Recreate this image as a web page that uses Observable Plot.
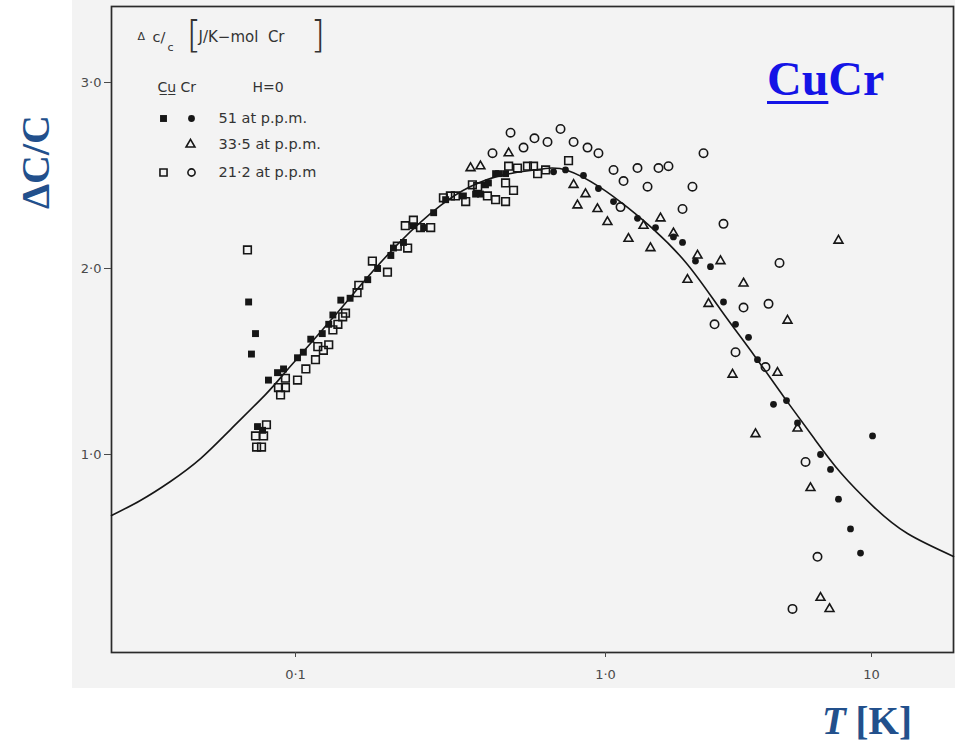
<!DOCTYPE html>
<html>
<head>
<meta charset="utf-8">
<script src="https://cdn.jsdelivr.net/npm/d3@7"></script>
<script src="https://cdn.jsdelivr.net/npm/@observablehq/plot@0.6"></script>
<style>
  html, body { margin: 0; padding: 0; background: #fff; }
  #wrap { position: relative; width: 955px; height: 744px; overflow: hidden; }
  #paper { position: absolute; left: 72px; top: 0; width: 883px; height: 688px; background: #f3f3f3; }
  #chart { position: absolute; left: 0; top: 0; }
  .lbl { position: absolute; font-family: "Liberation Serif", "Times New Roman", serif; font-weight: bold; line-height: 1; white-space: nowrap; }
  #ylab { left: 36px; top: 162px; font-size: 40px; color: #22508c; transform: translate(-50%, -50%) rotate(-90deg); }
  #xlab { left: 822px; top: 701px; font-size: 39px; color: #22508c; }
  #tag { left: 767px; top: 55px; font-size: 48px; color: #1414e6; }
  #tag u { text-decoration-thickness: 3px; text-underline-offset: 6px; }
</style>
</head>
<body>
<div id="wrap">
  <div id="paper"></div>
  <div id="chart"></div>
  <div class="lbl" id="ylab">ΔC/C</div>
  <div class="lbl" id="xlab"><i>T</i> [K]</div>
  <div class="lbl" id="tag"><u>Cu</u>Cr</div>
</div>
<script>
// Specific heat anomaly ΔC/C of dilute CuCr versus temperature (H = 0).
// Each series: [T in K, ΔC/C].

// 51 at p.p.m., low-temperature run (filled squares)
const cr51Low = [
  [0.0706,1.82],[0.0743,1.65],[0.0721,1.54],[0.0754,1.15],[0.0783,1.13],[0.0818,1.40],
  [0.0875,1.44],[0.0915,1.46],[0.1015,1.52],[0.106,1.55],[0.112,1.62],[0.122,1.65],
  [0.128,1.70],[0.132,1.75],[0.140,1.83],[0.150,1.84],[0.171,1.94],[0.184,2.00],
  [0.203,2.07],[0.207,2.11],[0.223,2.14],[0.240,2.23],[0.259,2.22],[0.279,2.30],
  [0.305,2.37],[0.348,2.39],[0.381,2.40],[0.395,2.40],[0.410,2.45],[0.419,2.46],
  [0.442,2.51],[0.452,2.51],[0.476,2.51]
];

// 51 at p.p.m., high-temperature run (filled circles)
const cr51High = [
  [0.680,2.52],[0.743,2.53],[0.849,2.50],[0.949,2.43],[1.072,2.36],[1.319,2.27],
  [1.542,2.22],[1.801,2.17],[1.948,2.14],[2.179,2.04],[2.481,2.01],[2.777,1.82],
  [3.082,1.70],[3.449,1.63],[3.728,1.51],[4.281,1.27],[4.791,1.29],[5.270,1.17],
  [6.432,1.00],[7.014,0.92],[7.514,0.76],[8.338,0.60],[9.093,0.47],[10.09,1.10]
];

// 33·5 at p.p.m. (open triangles)
const cr335 = [
  [0.367,2.54],[0.395,2.55],[0.487,2.62],[0.789,2.45],[0.862,2.40],[0.812,2.34],
  [0.942,2.32],[1.017,2.25],[1.220,2.16],[1.390,2.23],[1.476,2.11],[1.610,2.27],
  [1.801,2.19],[2.033,1.94],[2.218,2.07],[2.439,1.81],[2.706,2.04],[3.003,1.43],
  [3.303,1.92],[3.664,1.11],[4.432,1.44],[4.833,1.72],[5.270,1.14],[5.897,0.82],
  [6.432,0.23],[6.953,0.17],[7.514,2.15]
];

// 21·2 at p.p.m., low-temperature run (open squares)
const cr212Low = [
  [0.0700,2.10],[0.0806,1.16],[0.0743,1.10],[0.0789,1.10],[0.0749,1.04],[0.0777,1.04],
  [0.0881,1.36],[0.0928,1.36],[0.0895,1.32],[0.0928,1.41],[0.1015,1.40],[0.108,1.46],
  [0.116,1.51],[0.118,1.58],[0.123,1.56],[0.128,1.59],[0.132,1.67],[0.137,1.70],
  [0.142,1.74],[0.145,1.76],[0.158,1.87],[0.160,1.91],[0.177,2.04],[0.198,1.98],
  [0.213,2.12],[0.230,2.11],[0.226,2.23],[0.240,2.26],[0.253,2.22],[0.273,2.22],
  [0.300,2.38],[0.316,2.39],[0.328,2.39],[0.354,2.36],[0.372,2.45],[0.387,2.44],
  [0.416,2.39],[0.442,2.37],[0.476,2.36],[0.476,2.46],[0.505,2.42],[0.487,2.55],
  [0.520,2.54],[0.560,2.55],[0.586,2.55],[0.604,2.51],[0.641,2.53],[0.760,2.58]
];

// 21·2 at p.p.m., high-temperature run (open circles)
const cr212High = [
  [0.432,2.62],[0.494,2.73],[0.544,2.65],[0.590,2.70],[0.650,2.68],[0.716,2.75],
  [0.789,2.68],[0.875,2.65],[0.949,2.62],[1.072,2.53],[1.169,2.47],[1.139,2.33],
  [1.319,2.54],[1.439,2.44],[1.582,2.54],[1.725,2.55],[1.948,2.32],[2.123,2.44],
  [2.336,2.62],[2.570,1.70],[2.777,2.24],[3.082,1.55],[3.303,1.79],[3.995,1.47],
  [4.101,1.81],[4.510,2.03],[5.650,0.96],[6.266,0.45],[5.047,0.17]
];

// Theoretical curve
const theoryT = [0.0255,0.0316,0.0395,0.0494,0.0617,0.0800,0.0949,0.1297,0.162,
  0.218,0.294,0.367,0.459,0.573,0.641,0.754,0.964,1.210,1.515,2.033,2.706,3.601,
  4.670,6.053,7.647,10.17,13.65,20.33];
const theoryC = [0.672,0.753,0.855,0.978,1.134,1.322,1.462,1.720,1.909,
  2.145,2.339,2.441,2.500,2.527,2.538,2.527,2.435,2.328,2.210,2.022,1.780,1.538,
  1.312,1.091,0.903,0.720,0.575,0.452];

// Axis ticks
const xTicks = [0.1, 1, 10];
const xTickLabels = ["0·1", "1·0", "10"];
const yTicks = [1, 2, 3];
const yTickLabels = ["1·0", "2·0", "3·0"];

// Legend rows
const legendHeader = "C\u0332u\u0332 Cr";
const legendField = "H=0";
const legendLabels = ["51 at p.p.m.", "33·5 at p.p.m.", "21·2 at p.p.m"];

const ink = "#161616";
const textInk = "#333";
const rows = a => a.map(([T, c]) => ({T, c}));
const theory = theoryT.map((T, i) => ({T, c: theoryC[i]}));

const dots = (data, symbol, filled, r) => Plot.dot(rows(data), {
  x: "T", y: "c", symbol, r,
  fill: filled ? ink : "none",
  stroke: filled ? "none" : ink,
  strokeWidth: 1.6
});

// Legend pieces anchored to the top-left corner of the frame
const keyDot = (symbol, filled, r, dx, dy) => Plot.dot([0], {
  frameAnchor: "top-left", dx, dy, symbol, r,
  fill: filled ? ink : "none",
  stroke: filled ? "none" : ink,
  strokeWidth: 1.6
});
const keyText = (s, dx, dy, fontSize = 14.5, extra = {}) => Plot.text([s], {
  frameAnchor: "top-left", dx, dy, text: d => d,
  textAnchor: "start", lineAnchor: "middle", fontSize, fill: textInk, ...extra
});

const chart = Plot.plot({
  width: 955,
  height: 744,
  marginLeft: 111,
  marginRight: 2,
  marginTop: 6,
  marginBottom: 92,
  style: {background: "transparent", fontFamily: "'DejaVu Sans', sans-serif"},
  x: {type: "log", domain: [0.0255, 0.1, 1, 10, 20.33], range: [111, 295, 605, 871, 953]},
  y: {domain: [-0.0645, 3.4086]},
  marks: [
    Plot.frame({stroke: "#2a2a2a", strokeWidth: 1.7}),
    Plot.axisX({
      ticks: xTicks, tickFormat: d => xTickLabels[xTicks.indexOf(d)],
      tickSize: 5, tickPadding: 12, fontSize: 13, color: "#4a4a4a", label: null
    }),
    Plot.axisY({
      ticks: yTicks, tickFormat: d => yTickLabels[yTicks.indexOf(d)],
      tickSize: 7, tickPadding: 3, fontSize: 13, color: "#4a4a4a", label: null
    }),
    Plot.line(theory, {x: "T", y: "c", curve: "natural", stroke: ink, strokeWidth: 1.6}),
    dots(cr212Low, "square", false, 4.3),
    dots(cr212High, "circle", false, 4.2),
    dots(cr335, "triangle", false, 3.3),
    dots(cr51Low, "square", true, 3.9),
    dots(cr51High, "circle", true, 3.4),

    // quantity and units
    keyText("Δ", 26, 30, 11),
    keyText("c/", 41, 31, 14.5),
    keyText("c", 56, 41, 11),
    keyText("[", 75, 28, 38, {fontWeight: 300}),
    keyText("J/K−mol  Cr", 87, 31, 15),
    keyText("]", 199, 28, 38, {fontWeight: 300}),

    // sample key
    keyText(legendHeader, 46, 81, 14),
    keyText(legendField, 141, 81, 14),
    keyDot("square", true, 3.9, 52, 112),
    keyDot("circle", true, 3.4, 80, 112),
    keyText(legendLabels[0], 107, 112),
    keyDot("triangle", false, 3.3, 79, 138),
    keyText(legendLabels[1], 107, 138),
    keyDot("square", false, 4.0, 52, 166),
    keyDot("circle", false, 3.6, 80, 166),
    keyText(legendLabels[2], 107, 166)
  ]
});

document.getElementById("chart").appendChild(chart);
</script>
</body>
</html>
